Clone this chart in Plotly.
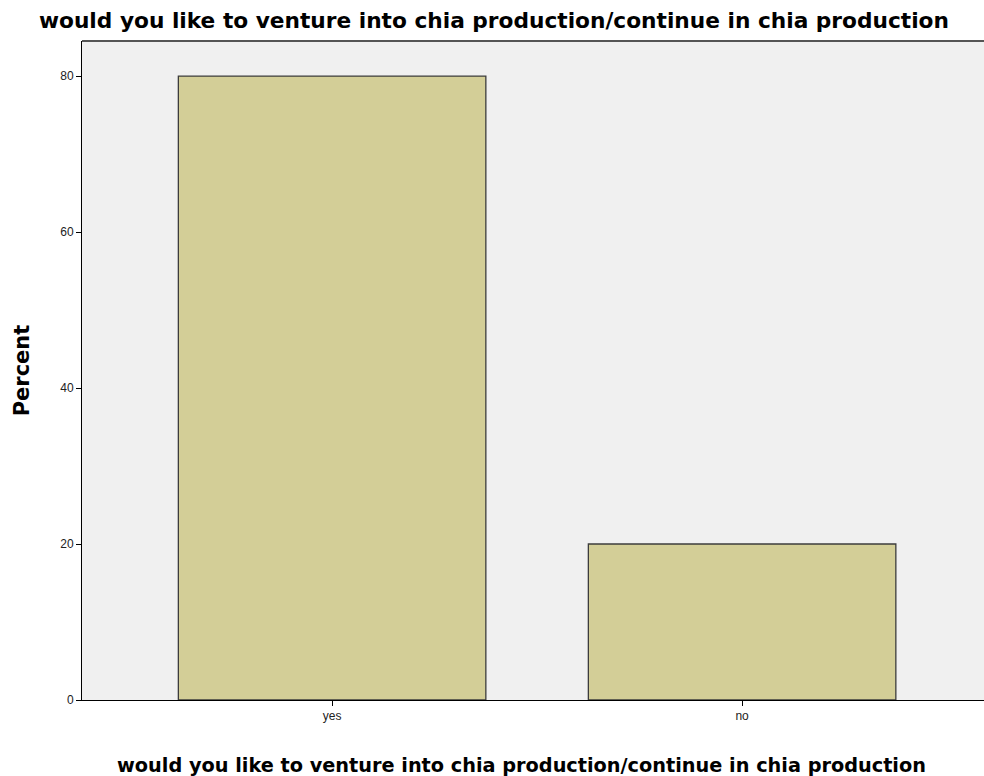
import plotly.graph_objects as go

categories = ["yes", "no"]
percent = [80.0, 20.0]
y_ticks = [0, 20, 40, 60, 80]
title_text = "would you like to venture into chia production/continue in chia production"

fig = go.Figure()
fig.add_trace(go.Bar(
    x=categories, y=percent, width=0.75,
    marker=dict(color="#D3CE97", line=dict(color="#3c3c3c", width=1.3)),
))

fig.update_layout(
    width=984, height=776,
    margin=dict(l=82, r=0, t=41, b=76),
    paper_bgcolor="white", plot_bgcolor="#F0F0F0",
    showlegend=False,
    title=dict(text=title_text, x=0.502, xanchor="center", y=0.974, yanchor="middle",
               font=dict(family="DejaVu Sans", size=21.7, color="black", weight="bold")),
    font=dict(family="Liberation Sans", color="black"),
)
fig.update_xaxes(
    range=[-0.61, 1.59], showline=True, linecolor="black", linewidth=1,
    ticks="outside", ticklen=5, tickcolor="black", showgrid=False,
    tickfont=dict(size=12, color="#222"),
)
fig.update_yaxes(
    range=[0, 84.5], tickvals=y_ticks, showline=True, linecolor="black", linewidth=1,
    ticks="outside", ticklen=5, tickcolor="black", showgrid=False, zeroline=False,
    tickfont=dict(size=12, color="#222"),
    title=dict(text="Percent", font=dict(family="DejaVu Sans", size=21, weight="bold"), standoff=24),
)
fig.add_annotation(text=title_text, xref="paper", yref="paper",
                   x=(521 - 82) / 902, y=-(765 - 700) / 659, xanchor="center", yanchor="middle",
                   showarrow=False,
                   font=dict(family="DejaVu Sans", size=19.3, color="black", weight="bold"))
fig.add_shape(type="line", xref="paper", yref="paper", x0=0, x1=1, y0=1, y1=1,
              line=dict(color="#555", width=2))

fig.write_html("out.html", config={"displayModeBar": False},
               post_script="document.body.style.margin='0';document.body.style.overflow='hidden';")
